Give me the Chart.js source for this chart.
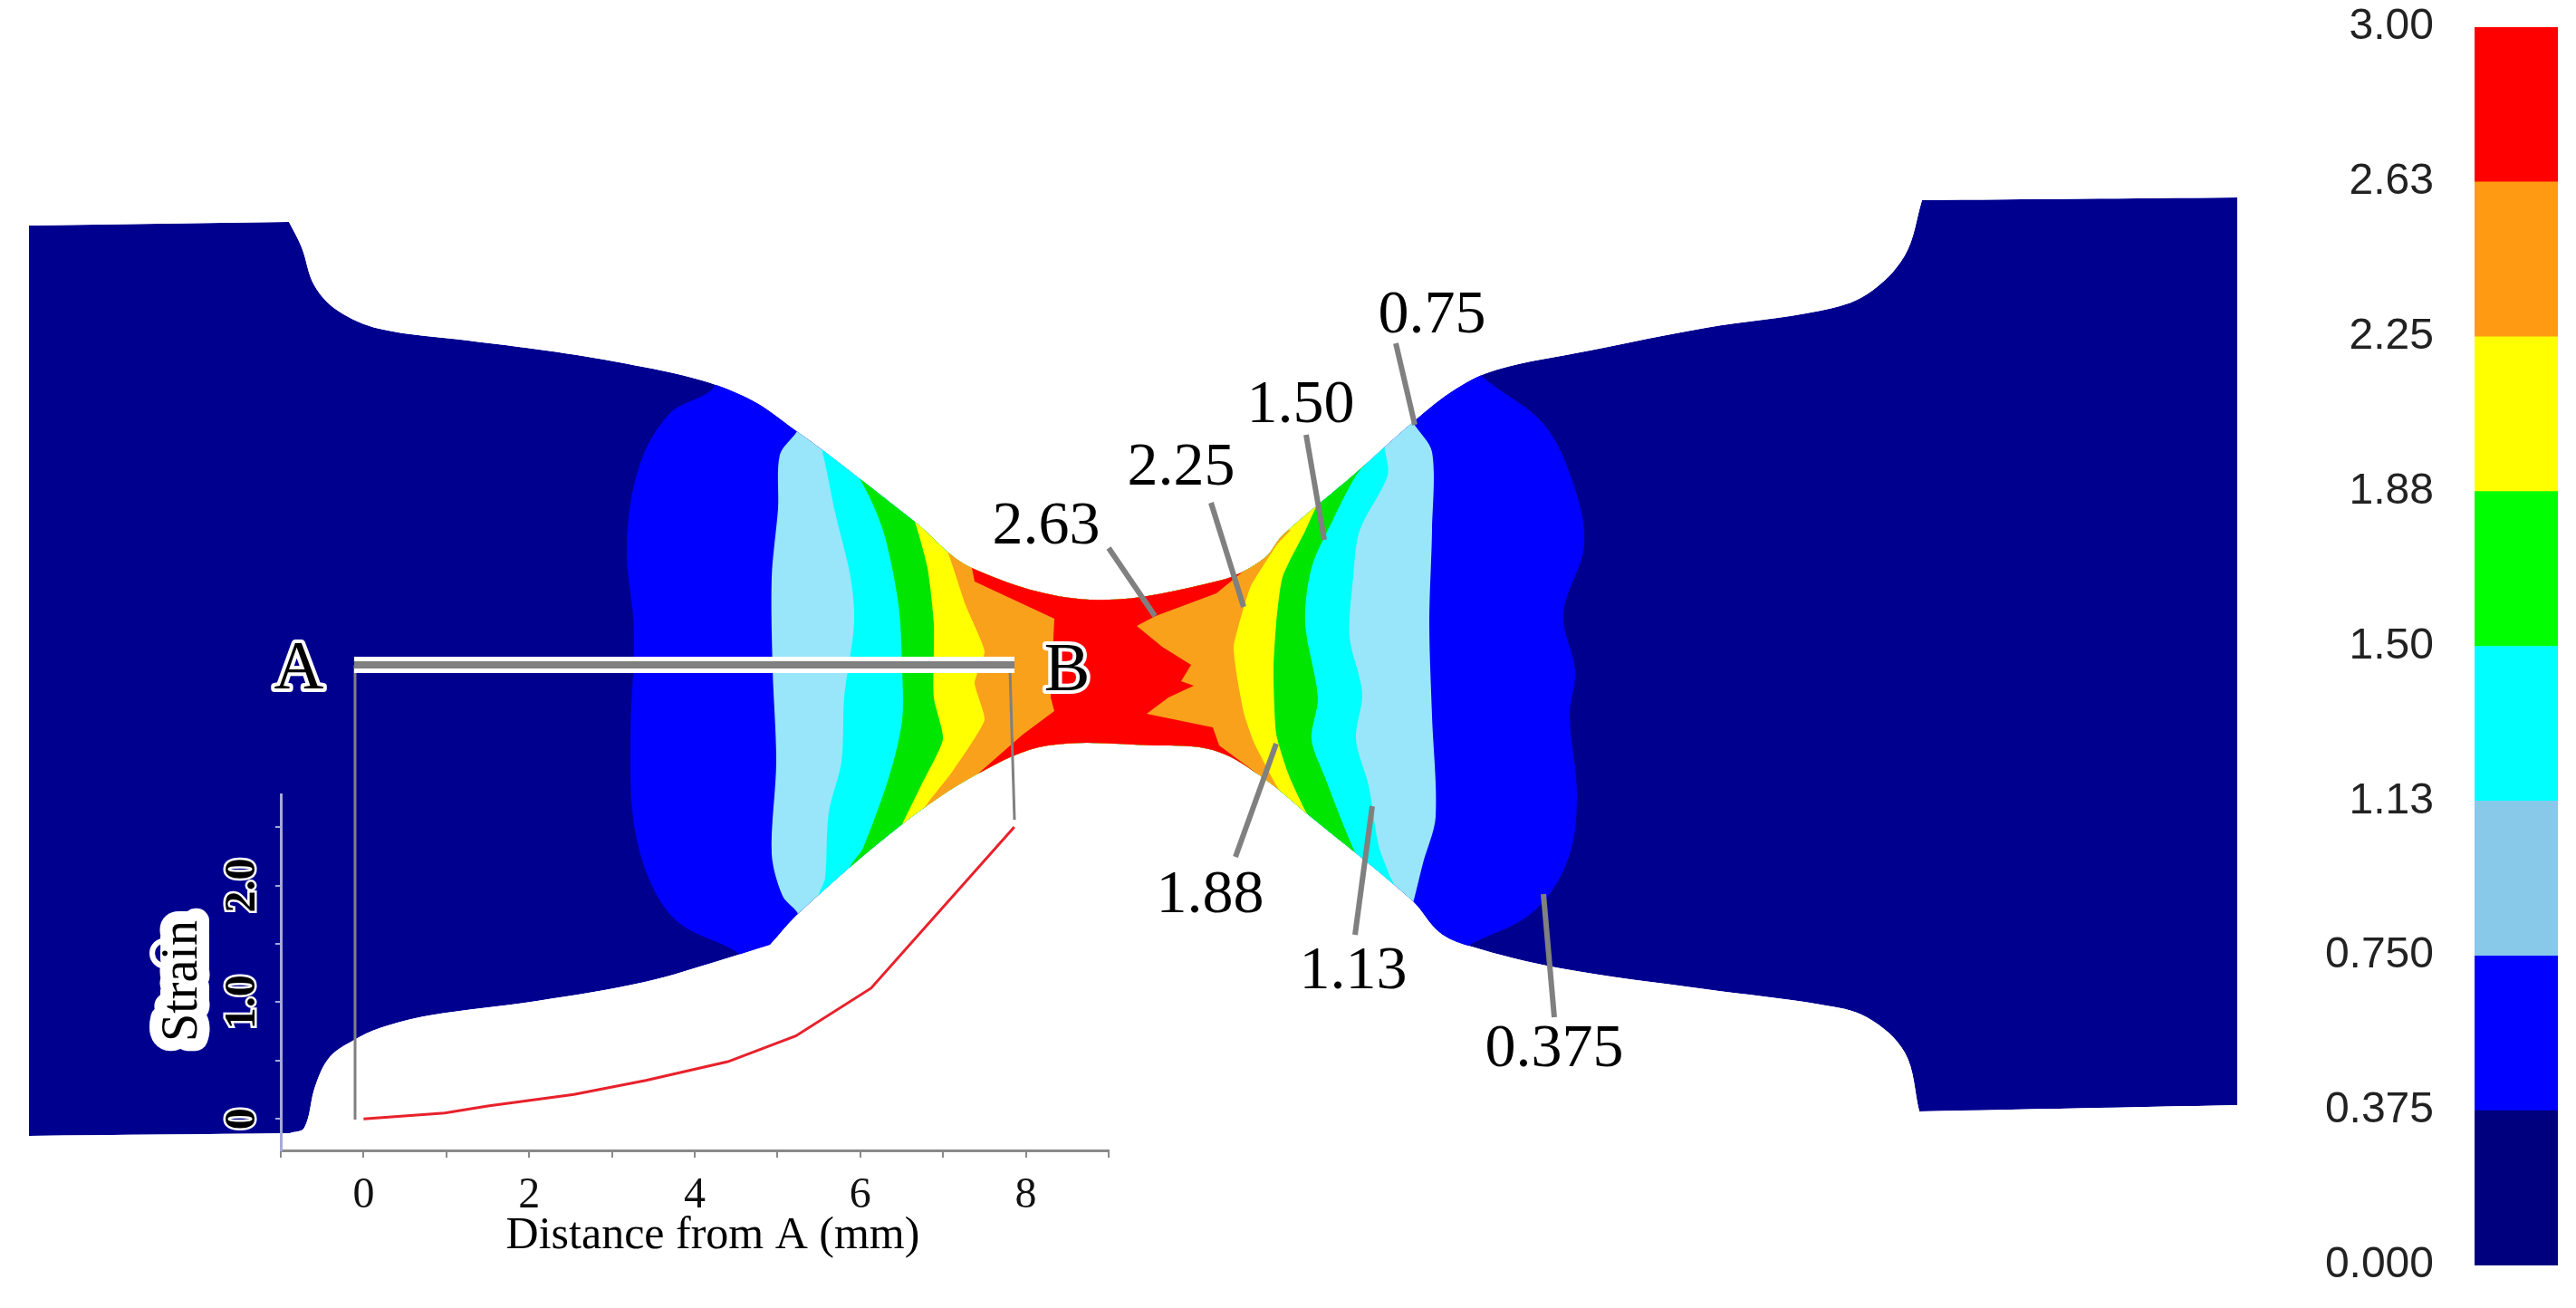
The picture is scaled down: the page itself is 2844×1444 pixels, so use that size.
<!DOCTYPE html>
<html>
<head>
<meta charset="utf-8">
<title>Strain contour</title>
<script src="https://cdn.jsdelivr.net/npm/chart.js@4"></script>
<style>
  html, body { margin: 0; padding: 0; background: #fff; }
  #page { position: relative; width: 2844px; height: 1444px; overflow: hidden; }
  canvas { position: absolute; display: block; }
</style>
</head>
<body>
<div id="page">
  <canvas id="specimenChart" width="2844" height="1444" style="left:0;top:0"></canvas>
  <canvas id="noteChart" width="2844" height="1444" style="left:0;top:0"></canvas>
  <canvas id="strainChart" width="1200" height="560" style="left:100px;top:840px"></canvas>
  <canvas id="barChart" width="344" height="1444" style="left:2500px;top:0"></canvas>
</div>
<script>
// specimen outline and contour bands (units of the 2844x1444 sheet)
// corners are listed twice so the curve stays sharp there
const outlineX = [32,32,319,319,333,347,373,419,517,603,689,775,832,878,911,1010,1073,1203,1346,1395,1416,1497,1560,1608,1653,1755,1883,2010,2061,2103,2122,2122,2470,2470,2470,2470,2119,2119,2103,2061,2010,1883,1723,1621,1589,1559,1445,1388,1339,1276,1157,1080,996,883,850,850,799,712,593,474,419,391,364,348,336,320,320,32,32];
const outlineY = [249,249,245,245,273,315,343,363,376,387,401,420,443,475,499,576,627,662,641,617,591,522,466,429,408,387,362,343,325,282,221,221,218,218,1220,1220,1227,1227,1162,1123,1109,1092,1069,1044,1029,994,900,854,828,823,823,854,910,1007,1043,1043,1059,1084,1105,1121,1135,1148,1167,1199,1245,1251,1251,1254,1254];

const blueX = [800,786,740,706,692,700,696,700,720,751,815,830,1600,1621,1691,1730,1741,1733,1739,1726,1749,1736,1704,1644,1630];
const blueY = [400,430,456,514,602,697,818,910,978,1020,1052,1075,1060,1044,1008,952,881,790,741,678,601,531,468,422,410];

const paleX = [885,880,861,859,852,853,857,852,864,880,885,1555,1560,1571,1585,1581,1578,1581,1581,1560,1555];
const paleY = [460,476,502,561,637,739,841,943,989,1007,1020,1010,997,953,902,790,688,586,499,466,450];

const cyanX = [900,908,922,939,943,932,929,915,911,905,1540,1534,1522,1511,1497,1504,1490,1494,1501,1532,1529,1525];
const cyanY = [480,499,566,637,688,770,841,897,969,995,985,966,933,867,816,765,703,637,586,525,497,480];

const greenX = [930,950,975,992,996,996,982,953,940,1510,1497,1462,1448,1455,1441,1448,1473,1497,1510];
const greenY = [510,530,586,668,739,795,856,936,960,958,943,856,816,770,688,627,571,525,510];

const yellowX = [1000,1010,1024,1031,1031,1041,1017,996,985,1460,1444,1423,1409,1406,1409,1416,1441,1455];
const yellowY = [560,576,627,688,770,816,867,910,930,918,900,856,810,739,688,637,586,555];

const orangeX = [1030,1045,1066,1087,1076,1087,1052,1024,1010,1420,1409,1385,1374,1366,1362,1371,1381,1410,1425];
const orangeY = [590,606,668,719,754,795,851,887,910,885,867,821,790,749,714,678,647,601,585];

const redX = [1065,1073,1076,1164,1160,1164,1129,1080,1075,1395,1388,1346,1339,1266,1290,1318,1304,1315,1283,1255,1276,1343,1371,1395,1400];
const redY = [600,627,642,683,770,785,811,854,880,880,854,823,803,788,770,757,752,734,714,691,680,655,632,617,600];

// strain along A-B
const distanceMm = [0.0,0.98,1.5,2.54,3.41,4.4,5.22,6.13,7.86];
const strainValues = [0.0,0.05,0.11,0.21,0.33,0.49,0.71,1.12,2.5];

// colour key
const bandValues = [0.375,0.375,0.375,0.375,0.375,0.375,0.375,0.375];
const bandColors = ['#00007f','#0000ff','#88c9e9','#00ffff','#00ff00','#ffff00','#ff9a12','#ff0000'];
const bandLabels = ['0.000','0.375','0.750','1.13','1.50','1.88','2.25','2.63','3.00'];

// leader lines and their labels
const leaderStartX = [1541,1442,1337,1224,1364,1496,1704];
const leaderStartY = [379,480,555,605,946,1032,987];
const leaderEndX = [1562,1462,1373,1275,1409,1515,1716];
const leaderEndY = [469,596,670,680,821,890,1123];
const noteLabels = ['0.75','1.50','2.25','2.63','1.88','1.13','0.375'];
const noteX = [1581,1436,1304,1155,1336,1494,1716];
const noteY = [367,466,535,600,1007,1091,1177];

// section A-B and the two drop lines down to the strain curve
const sectionX = [391,1120];
const sectionY = [734,734];
const dropAX = [392,392];
const dropAY = [734,1236];
const dropBX = [1115,1120];
const dropBY = [739,905];
const pointLabels = ['A','B'];
const pointX = [330,1178];
const pointY = [760,762];

const xTickLabels = {0: '0', 2: '2', 4: '4', 6: '6', 8: '8'};
const yTickLabels = {0: '0', 1: '1.0', 2: '2.0'};

const SERIF = '"Liberation Serif", "Times New Roman", serif';

function pts(xs, ys) {
  return xs.map((x, i) => ({x: x, y: ys[i]}));
}

function sheetScales() {
  return {
    x: {type: 'linear', display: false, min: 0, max: 2844},
    y: {type: 'linear', display: false, reverse: true, min: 0, max: 1444}
  };
}

function band(data, color, tension) {
  return {data: data, backgroundColor: color, borderWidth: 0, pointRadius: 0, tension: tension, fill: 'shape', clip: false, capBezierPoints: false};
}

function stroke(data, color, width) {
  return {data: data, borderColor: color, borderWidth: width, pointRadius: 0, tension: 0, fill: false, clip: false, borderCapStyle: 'butt'};
}

// keeps all the bands inside the specimen outline (last dataset of the chart)
const clipToOutline = {
  id: 'clipToOutline',
  beforeDatasetsDraw(chart) {
    const ctx = chart.ctx;
    const meta = chart.getDatasetMeta(chart.data.datasets.length - 1);
    ctx.save();
    ctx.beginPath();
    meta.dataset.path(ctx);
    ctx.closePath();
    ctx.clip();
  },
  afterDatasetsDraw(chart) {
    chart.ctx.restore();
  }
};

new Chart(document.getElementById('specimenChart'), {
  type: 'line',
  data: {
    datasets: [
      band(pts(redX, redY), '#ff0000', 0),
      band(pts(orangeX, orangeY), '#f9a11b', 0.15),
      band(pts(yellowX, yellowY), '#ffff00', 0.2),
      band(pts(greenX, greenY), '#00e600', 0.3),
      band(pts(cyanX, cyanY), '#00ffff', 0.3),
      band(pts(paleX, paleY), '#99e6fa', 0.3),
      band(pts(blueX, blueY), '#0000ff', 0.35),
      band(pts(outlineX, outlineY), '#00008f', 0.35)
    ]
  },
  options: {
    responsive: false,
    devicePixelRatio: 1,
    animation: false,
    layout: {padding: 0},
    scales: sheetScales(),
    plugins: {legend: {display: false}, tooltip: {enabled: false}}
  },
  plugins: [clipToOutline]
});

// text written on the sheet at data positions
const sheetText = {
  id: 'sheetText',
  afterDatasetsDraw(chart) {
    const ctx = chart.ctx;
    const sx = chart.scales.x, sy = chart.scales.y;
    ctx.save();
    ctx.textAlign = 'center';
    ctx.textBaseline = 'alphabetic';
    ctx.fillStyle = '#000';
    ctx.font = '68px ' + SERIF;
    noteLabels.forEach((t, i) => {
      ctx.fillText(t, sx.getPixelForValue(noteX[i]), sy.getPixelForValue(noteY[i]));
    });
    ctx.font = '76px ' + SERIF;
    ctx.lineJoin = 'round';
    ctx.lineWidth = 8;
    ctx.strokeStyle = '#fff';
    pointLabels.forEach((t, i) => {
      const px = sx.getPixelForValue(pointX[i]), py = sy.getPixelForValue(pointY[i]);
      ctx.strokeText(t, px, py);
      ctx.fillText(t, px, py);
    });
    ctx.restore();
  }
};

const leaderSets = noteLabels.map((t, i) =>
  stroke(pts([leaderStartX[i], leaderEndX[i]], [leaderStartY[i], leaderEndY[i]]), '#808080', 6));

new Chart(document.getElementById('noteChart'), {
  type: 'line',
  data: {
    datasets: [
      stroke(pts(sectionX, sectionY), '#808080', 8),
      stroke(pts(sectionX, sectionY), '#ffffff', 18),
      stroke(pts(dropAX, dropAY), '#808080', 3),
      stroke(pts(dropBX, dropBY), '#808080', 3)
    ].concat(leaderSets)
  },
  options: {
    responsive: false,
    devicePixelRatio: 1,
    animation: false,
    layout: {padding: 0},
    scales: sheetScales(),
    plugins: {legend: {display: false}, tooltip: {enabled: false}}
  },
  plugins: [sheetText]
});

// axis titles of the strain plot, placed where the figure has them
const strainTitles = {
  id: 'strainTitles',
  afterDraw(chart) {
    const ctx = chart.ctx;
    ctx.save();
    ctx.textBaseline = 'alphabetic';
    ctx.textAlign = 'center';
    ctx.fillStyle = '#000';
    ctx.font = '50px ' + SERIF;
    ctx.fillText('Distance from A (mm)', 687, 538);
    ctx.translate(117, 243);
    ctx.rotate(-Math.PI / 2);
    ctx.font = '56px ' + SERIF;
    ctx.lineJoin = 'round';
    ctx.lineWidth = 28;
    ctx.strokeStyle = '#fff';
    ctx.strokeText('Strain', 0, 0);
    ctx.fillText('Strain', 0, 0);
    ctx.restore();
  }
};

new Chart(document.getElementById('strainChart'), {
  type: 'line',
  data: {
    datasets: [{
      data: pts(distanceMm, strainValues),
      borderColor: '#e8212b',
      borderWidth: 3,
      pointRadius: 0,
      tension: 0,
      fill: false
    }]
  },
  options: {
    responsive: false,
    devicePixelRatio: 1,
    animation: false,
    layout: {padding: {top: 37, right: 76, left: 0, bottom: 0}},
    scales: {
      x: {
        type: 'linear',
        min: -1,
        max: 9,
        afterFit(scale) { scale.height = 130; },
        border: {display: true, color: '#8a8a8a', width: 3},
        grid: {drawOnChartArea: false, drawTicks: true, tickLength: 8, color: '#8a8a8a', lineWidth: 2},
        ticks: {
          stepSize: 1,
          autoSkip: false,
          maxRotation: 0,
          minRotation: 0,
          includeBounds: false,
          padding: 14,
          color: '#111',
          font: {family: SERIF, size: 48},
          callback: v => xTickLabels[v] || ''
        }
      },
      y: {
        type: 'linear',
        min: -0.27,
        max: 2.78,
        afterFit(scale) { scale.width = 210; },
        border: {display: true, color: '#a6a9d8', width: 3},
        grid: {drawOnChartArea: false, drawTicks: true, tickLength: 6, color: '#a6a9d8', lineWidth: 2},
        ticks: {
          stepSize: 0.5,
          autoSkip: false,
          includeBounds: false,
          minRotation: 90,
          maxRotation: 90,
          crossAlign: 'center',
          padding: 5,
          color: '#000',
          textStrokeColor: '#fff',
          textStrokeWidth: 5,
          font: {family: SERIF, size: 48, weight: 'bold'},
          callback: v => yTickLabels[v] || ''
        }
      }
    },
    plugins: {legend: {display: false}, tooltip: {enabled: false}}
  },
  plugins: [strainTitles]
});

new Chart(document.getElementById('barChart'), {
  type: 'bar',
  data: {
    labels: ['Strain'],
    datasets: bandValues.map((v, i) => ({
      data: [v],
      backgroundColor: bandColors[i],
      borderWidth: 0,
      barPercentage: 1,
      categoryPercentage: 1
    }))
  },
  options: {
    responsive: false,
    devicePixelRatio: 1,
    animation: false,
    layout: {padding: {top: 30, right: 20, left: 0, bottom: 47}},
    scales: {
      x: {stacked: true, display: false},
      y: {
        stacked: true,
        min: 0,
        max: 3,
        afterFit(scale) {
          scale.width = 232;
          // the end labels may overhang: the bar keeps its full height
          scale.paddingTop = 0;
          scale.paddingBottom = 0;
        },
        border: {display: false},
        grid: {display: false, drawTicks: false},
        ticks: {
          stepSize: 0.375,
          autoSkip: false,
          padding: 45,
          color: '#222',
          font: {family: '"Liberation Sans", Arial, sans-serif', size: 48},
          callback: (v, i) => bandLabels[i]
        }
      }
    },
    plugins: {legend: {display: false}, tooltip: {enabled: false}}
  }
});
</script>
</body>
</html>
